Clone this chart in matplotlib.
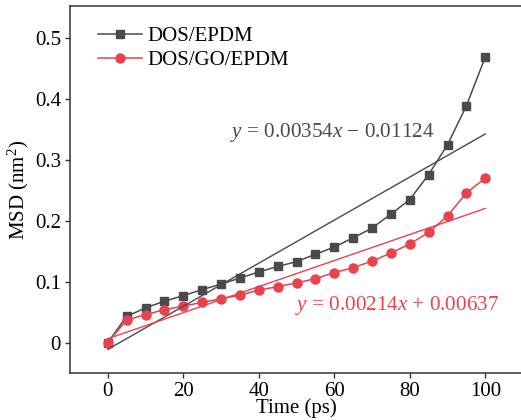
import numpy as np
import matplotlib.pyplot as plt
from matplotlib.ticker import FuncFormatter

# MSD curves
time_ps = [0, 5, 10, 15, 20, 25, 30, 35, 40, 45, 50, 55, 60, 65, 70, 75, 80, 85, 90, 95, 100]
msd_dos_epdm = [0, 0.043, 0.057, 0.068, 0.077, 0.087, 0.096, 0.106, 0.116, 0.125, 0.133,
                0.145, 0.157, 0.172, 0.188, 0.211, 0.235, 0.276, 0.325, 0.389, 0.469]
msd_dos_go_epdm = [0, 0.037, 0.046, 0.054, 0.060, 0.066, 0.072, 0.078, 0.086, 0.092, 0.098,
                   0.105, 0.115, 0.123, 0.134, 0.147, 0.162, 0.181, 0.208, 0.246, 0.270]

# linear fits given on the chart
fit_dos_epdm = (0.00354, -0.01124)
fit_dos_go_epdm = (0.00214, 0.00637)

dark = '#4a4a4a'
red = '#e8424f'

plt.rcParams['font.family'] = ['Liberation Serif', 'DejaVu Serif']
plt.rcParams['mathtext.fontset'] = 'custom'
plt.rcParams['mathtext.it'] = 'Liberation Serif:italic'
plt.rcParams['mathtext.rm'] = 'Liberation Serif'

fig = plt.figure(figsize=(5.21, 4.2), dpi=100)
ax = fig.add_axes([70 / 521, 47 / 420, 453 / 521, 367 / 420])

ax.plot(time_ps, msd_dos_epdm, color=dark, marker='s', markersize=6, lw=1.1, label='DOS/EPDM')
ax.plot(time_ps, msd_dos_go_epdm, color=red, marker='o', markersize=6.5, lw=1.1, label='DOS/GO/EPDM')

xf = np.array([0, 100])
ax.plot(xf, fit_dos_epdm[0] * xf + fit_dos_epdm[1], color=dark, lw=1.0)
ax.plot(xf, fit_dos_go_epdm[0] * xf + fit_dos_go_epdm[1], color=red, lw=1.0)

ax.text(0.353, 0.654, r'$y$ = 0.00354$x$ − 0.01124', transform=ax.transAxes,
        fontsize=15.2, color=dark, va='center', ha='left')
ax.text(0.497, 0.183, r'$y$ = 0.00214$x$ + 0.00637', transform=ax.transAxes,
        fontsize=15.2, color=red, va='center', ha='left')

ax.set_xlim(-10, 110)
ax.set_ylim(-0.05, 0.553)
ax.set_xticks([0, 20, 40, 60, 80, 100])
ax.set_yticks([0, 0.1, 0.2, 0.3, 0.4, 0.5])
ax.yaxis.set_major_formatter(FuncFormatter(lambda v, p: '0' if abs(v) < 1e-9 else f'{v:.1f}'))
ax.tick_params(direction='out', length=3.5, width=1, labelsize=15, color='#333333', pad=3)
for s in ax.spines.values():
    s.set_color('#333333')
    s.set_linewidth(1.1)

ax.set_xlabel('Time (ps)', fontsize=15, labelpad=-2)
ax.set_ylabel('MSD (nm$^2$)', fontsize=15, labelpad=3)

ax.legend(loc='upper left', bbox_to_anchor=(0.02, 0.995), frameon=False, fontsize=15,
          handlelength=2.1, handletextpad=0.3, labelspacing=0.2, borderaxespad=0.5)

fig.savefig('out.png', dpi=100)
